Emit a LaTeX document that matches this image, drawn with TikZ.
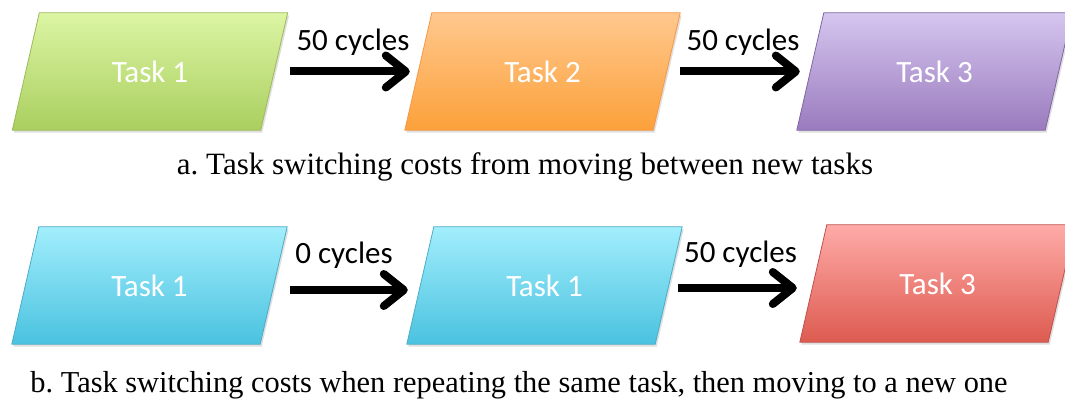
\documentclass[tikz,border=0pt]{standalone}
\usepackage{fontspec}
\setmainfont{Liberation Serif}
\newfontfamily\calfont{Carlito}
\usetikzlibrary{arrows.meta,shadows}
\pgfdeclarelayer{background}
\pgfsetlayers{background,main}
\definecolor{gT}{HTML}{DCF5A4}\definecolor{gD}{HTML}{AACF5F}\definecolor{gB}{HTML}{9BBB59}
\definecolor{oT}{HTML}{FFC88E}\definecolor{oD}{HTML}{FCA13A}\definecolor{oB}{HTML}{F79646}
\definecolor{pT}{HTML}{D5C6EF}\definecolor{pD}{HTML}{9A7BBE}\definecolor{pB}{HTML}{8064A2}
\definecolor{cT}{HTML}{A2EEFC}\definecolor{cD}{HTML}{4AC2DF}\definecolor{cB}{HTML}{4BACC6}
\definecolor{rT}{HTML}{FFABA8}\definecolor{rD}{HTML}{DD5B50}\definecolor{rB}{HTML}{C0504D}
\newcommand\parabox[2]{\begin{pgfonlayer}{background}
  \path[pshape,#2] ([xshift=-13.5pt]#1.south west) -- ([xshift=-13.5pt]#1.south east)
    -- ([xshift=13.5pt]#1.north east) -- ([xshift=13.5pt]#1.north west) -- cycle;
  \end{pgfonlayer}}
\frenchspacing
\begin{document}
\begin{tikzpicture}[x=1pt,y=-1pt,
  task/.style={rectangle, minimum width=248pt, minimum height=117pt,
    inner sep=0pt, text=white, font=\calfont\fontsize{31}{36}\selectfont},
  pshape/.style={line width=0.8pt,
    drop shadow={shadow xshift=1.5pt,shadow yshift=-2.5pt,opacity=0.25}},
  tgreen/.style={draw=gB, top color=gT, bottom color=gD},
  torange/.style={draw=oB, top color=oT, bottom color=oD},
  tpurple/.style={draw=pB, top color=pT, bottom color=pD},
  tcyan/.style={draw=cB, top color=cT, bottom color=cD},
  tred/.style={draw=rB, top color=rT, bottom color=rD},
  flow/.style={line width=8pt, -{Straight Barb[length=20pt,width=32pt,round]}},
  cyc/.style={font=\calfont\fontsize{31}{36}\selectfont, text=black, inner sep=0pt},
  captext/.style={text=black, anchor=base, inner sep=0pt}
]
\useasboundingbox (0,0) rectangle (1065,401);
% row a
\node[task] (a1) at (150,71.5)   {Task 1};
\node[task] (a2) at (542.5,71.5) {Task 2};
\node[task] (a3) at (934.5,71.5) {Task 3};
\parabox{a1}{tgreen}
\parabox{a2}{torange}
\parabox{a3}{tpurple}
\draw[flow] ([xshift=16pt]a1.east) -- ([xshift=-8.5pt]a2.west)
  node[cyc, midway, xshift=3pt, yshift=29.5pt] (la1) {50 cycles};
\draw[flow] ([xshift=13.5pt]a2.east) -- ([xshift=-10.5pt]a3.west)
  node[cyc, midway, xshift=3pt, yshift=29.5pt] (la2) {50 cycles};
\node[captext, font=\fontsize{31}{36}\selectfont] (capa) at (525,174) {a. Task switching costs from moving between new tasks};
% row b
\node[task] (b1) at (149.5,285.5) {Task 1};
\node[task] (b2) at (544.5,285.5) {Task 1};
\node[task] (b3) at (937.5,283.5) {Task 3};
\parabox{b1}{tcyan}
\parabox{b2}{tcyan}
\parabox{b3}{tred}
\draw[flow] ([xshift=16.5pt,yshift=-4.5pt]b1.east) -- ([xshift=-12.5pt,yshift=-4.5pt]b2.west)
  node[cyc, midway, xshift=-5pt, yshift=34.5pt] (lb1) {0 cycles};
\draw[flow] ([xshift=9.5pt,yshift=-2.5pt]b2.east) -- ([xshift=-16.5pt,yshift=-4.5pt]b3.west)
  node[cyc, midway, xshift=3pt, yshift=33.5pt] (lb2) {50 cycles};
\node[captext, font=\fontsize{30.4}{36}\selectfont] (capb) at (519,392) {b. Task switching costs when repeating the same task, then moving to a new one};
\end{tikzpicture}
\end{document}
